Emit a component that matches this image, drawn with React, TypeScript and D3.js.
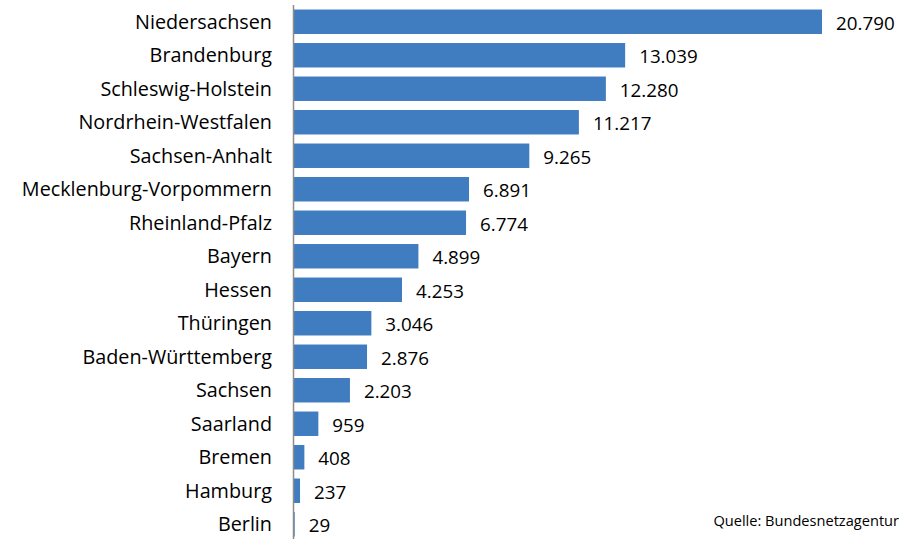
import React from 'react';
import * as d3 from 'd3';

const states = [
  'Niedersachsen', 'Brandenburg', 'Schleswig-Holstein', 'Nordrhein-Westfalen',
  'Sachsen-Anhalt', 'Mecklenburg-Vorpommern', 'Rheinland-Pfalz', 'Bayern',
  'Hessen', 'Thüringen', 'Baden-Württemberg', 'Sachsen', 'Saarland',
  'Bremen', 'Hamburg', 'Berlin',
];
const capacity = [
  20790, 13039, 12280, 11217, 9265, 6891, 6774, 4899,
  4253, 3046, 2876, 2203, 959, 408, 237, 29,
];
const source = 'Quelle: Bundesnetzagentur';

const fmt = d3.formatLocale({ decimal: ',', thousands: '.', grouping: [3], currency: ['', ''] }).format(',d');

export default function App() {
  const width = 903;
  const height = 539;
  const x0 = 294;

  const x = d3.scaleLinear().domain([0, 20790]).range([x0, 822]);
  const y = d3.scaleBand<string>().domain(states).range([5, 541]).paddingInner(0.27).paddingOuter(0.135);

  const font = '"Open Sans", sans-serif';

  return (
    <div style={{ position: 'fixed', left: 0, top: 0 }}>
      <svg width={width} height={height} style={{ display: 'block', background: '#fff' }}>
        {states.map((s, i) => {
          const yy = y(s) as number;
          const cy = yy + y.bandwidth() / 2;
          return (
            <g key={s}>
              <rect x={x0} y={yy} width={x(capacity[i]) - x0} height={y.bandwidth()} fill="#3f7cc0" />
              <text x={272} y={cy} dy="0.35em" textAnchor="end" fontFamily={font} fontSize={19.8} fill="#000">{s}</text>
              <text x={x(capacity[i]) + 14} y={cy + 1.5} dy="0.35em" fontFamily={font} fontSize={18.8} fill="#000">{fmt(capacity[i])}</text>
            </g>
          );
        })}
        <line x1={x0 - 0.5} x2={x0 - 0.5} y1={5} y2={height} stroke="#8c8c8c" strokeWidth={1.5} />
        <text x={899} y={521} dy="0.35em" textAnchor="end" fontFamily={font} fontSize={14.6} fill="#000">{source}</text>
      </svg>
    </div>
  );
}
